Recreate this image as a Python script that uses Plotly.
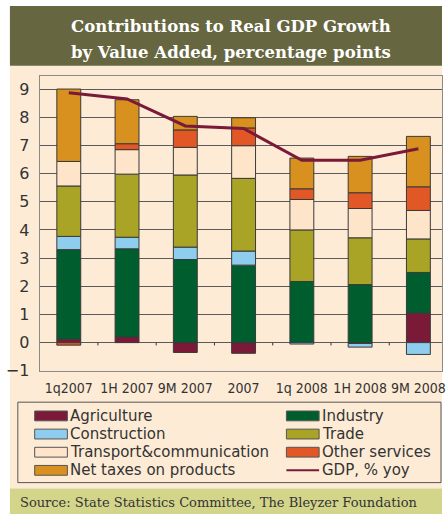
import plotly.graph_objects as go

W, H = 446, 524

categories = ['1q2007', '1H 2007', '9M 2007', '2007', '1q 2008', '1H 2008', '9M 2008']
agriculture = [0.12, 0.20, -0.35, -0.38, 0.0, -0.03, 1.05]
industry = [3.18, 3.13, 2.95, 2.75, 2.17, 2.06, 1.44]
construction = [0.47, 0.41, 0.44, 0.50, -0.05, -0.13, -0.42]
trade = [1.79, 2.24, 2.56, 2.58, 1.83, 1.66, 1.19]
transport = [0.87, 0.87, 0.98, 1.16, 1.08, 1.04, 1.01]
other_services = [-0.09, 0.21, 0.62, 0.63, 0.38, 0.56, 0.84]
net_taxes = [2.57, 1.56, 0.48, 0.36, 1.09, 1.29, 1.79]
gdp = [8.87, 8.65, 7.69, 7.60, 6.47, 6.47, 6.88]
y_ticks = [-1, 0, 1, 2, 3, 4, 5, 6, 7, 8, 9]

series_names = ['Agriculture', 'Industry', 'Construction', 'Trade',
                'Transport&communication', 'Other services', 'Net taxes on products']
series_values = [agriculture, industry, construction, trade, transport, other_services, net_taxes]
series_colors = ['#7A1A38', '#005E2E', '#8ECDED', '#A9A326', '#FEE4C8', '#E15826', '#D8901F']
gdp_name = 'GDP, % yoy'
gdp_color = '#7A1A38'

title_lines = ['Contributions to Real GDP Growth', 'by Value Added, percentage points']
source_text = 'Source: State Statistics Committee, The Bleyzer Foundation'

CREAM = '#FDEBD6'
OLIVE = '#666640'
SRC_BG = '#D3D58B'
TXT = '#333333'


def X(px):
    return px / W


def Y(py):
    return 1 - py / H


fig = go.Figure()
for name, vals, col in zip(series_names, series_values, series_colors):
    fig.add_trace(go.Bar(x=categories, y=vals, name=name, width=0.41,
                         marker=dict(color=col, line=dict(color='#3a3a3a', width=1)),
                         showlegend=False, hoverinfo='skip'))
fig.add_trace(go.Scatter(x=categories, y=gdp, mode='lines', name=gdp_name,
                         line=dict(color=gdp_color, width=3), showlegend=False, hoverinfo='skip'))

shapes = []
# background bands
shapes.append(dict(type='rect', xref='paper', yref='paper', x0=X(10), x1=X(446), y0=Y(67), y1=Y(498),
                   fillcolor=CREAM, line=dict(width=0), layer='below'))
shapes.append(dict(type='rect', xref='paper', yref='paper', x0=X(10), x1=X(446), y0=Y(6), y1=Y(67),
                   fillcolor=OLIVE, line=dict(width=0), layer='below'))
shapes.append(dict(type='rect', xref='paper', yref='paper', x0=X(10), x1=X(446), y0=Y(498), y1=Y(524),
                   fillcolor=SRC_BG, line=dict(width=0), layer='below'))
# small ticks on the zero line between categories
for i in range(len(categories) - 1):
    shapes.append(dict(type='line', xref='x', yref='y', x0=i + 0.5, x1=i + 0.5, y0=0, y1=-0.1,
                       line=dict(color='#333333', width=1)))
# legend box
shapes.append(dict(type='rect', xref='paper', yref='paper', x0=X(18), x1=X(445), y0=Y(410), y1=Y(492),
                   fillcolor='rgba(0,0,0,0)', line=dict(color='#555555', width=1)))

annotations = []
for k, line in enumerate(title_lines):
    annotations.append(dict(text='<b>' + line + '</b>', xref='paper', yref='paper', x=X(233), y=Y(27 + 27 * k),
                            xanchor='center', yanchor='middle', showarrow=False,
                            font=dict(family='DejaVu Serif', size=16.5, color='white')))
annotations.append(dict(text=source_text, xref='paper', yref='paper', x=X(18), y=Y(512),
                        xanchor='left', yanchor='middle', showarrow=False,
                        font=dict(family='DejaVu Serif', size=13, color=TXT)))

# manual two-column legend
row_y = [424, 442.5, 461, 479.5]
col_x = [35, 289]
legend_items = []
for j in range(len(series_names)):
    legend_items.append((series_names[j], series_colors[j], 'bar'))
legend_items.append((gdp_name, gdp_color, 'line'))
for idx, (name, col, kind) in enumerate(legend_items):
    c = idx % 2
    r = idx // 2
    x0 = col_x[c]
    yc = row_y[r]
    if kind == 'bar':
        shapes.append(dict(type='rect', xref='paper', yref='paper', x0=X(x0), x1=X(x0 + 33),
                           y0=Y(yc + 5), y1=Y(yc - 5), fillcolor=col,
                           line=dict(color='#555555', width=1)))
    else:
        shapes.append(dict(type='line', xref='paper', yref='paper', x0=X(x0), x1=X(x0 + 33),
                           y0=Y(yc), y1=Y(yc), line=dict(color=col, width=2)))
    annotations.append(dict(text=name, xref='paper', yref='paper', x=X(x0 + 34), y=Y(yc),
                            xanchor='left', yanchor='middle', showarrow=False,
                            font=dict(family='DejaVu Sans', size=15, color=TXT)))

fig.update_layout(
    width=W, height=H,
    margin=dict(l=0, r=0, t=0, b=0, pad=0),
    paper_bgcolor='white', plot_bgcolor=CREAM,
    barmode='relative', bargap=0.5,
    showlegend=False, hovermode=False,
    shapes=shapes, annotations=annotations,
    xaxis=dict(domain=[X(40), 1], type='category', range=[-0.5, 6.405],
               showline=True, linecolor='#8a8a8a', linewidth=1, mirror=True,
               showgrid=False, ticks='', ticklabelstandoff=4,
               tickfont=dict(family='DejaVu Sans Condensed, DejaVu Sans', size=14, color=TXT)),
    yaxis=dict(domain=[Y(378), Y(77)], range=[-1, 9.48], tickvals=y_ticks,
               showline=True, linecolor='#8a8a8a', linewidth=1, mirror=True,
               showgrid=True, gridcolor='#5a5a5a', gridwidth=1,
               zeroline=True, zerolinecolor='#5a5a5a', zerolinewidth=1,
               ticks='', ticklabelstandoff=6,
               tickfont=dict(family='DejaVu Sans', size=16, color=TXT)),
)

post = ("document.documentElement.style.margin='0';document.documentElement.style.overflow='hidden';"
        "document.body.style.margin='0';document.body.style.overflow='hidden';"
        "var d=document.getElementById('{plot_id}');d.style.position='fixed';d.style.left='0';d.style.top='0';")
fig.write_html('out.html', config={'displayModeBar': False, 'staticPlot': True}, post_script=post)
